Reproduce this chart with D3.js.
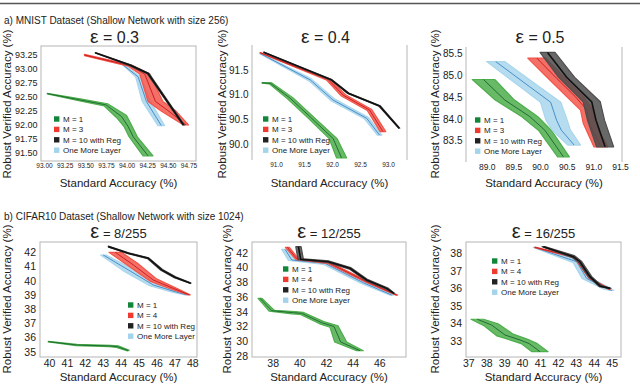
<!DOCTYPE html>
<html>
<head>
<meta charset="UTF-8">
<script src="https://cdn.jsdelivr.net/npm/d3@7"></script>
<style>
  body { margin: 0; background: #fff; }
  text { font-family: "Liberation Sans", Arial, sans-serif; fill: #222; }
</style>
</head>
<body>
<svg id="fig" width="640" height="384"></svg>
<script>
// ---- data: [standard acc, verified acc, x half-spread, y half-spread] ----
var labelsA = ["M = 1", "M = 3", "M = 10 with Reg", "One More Layer"];
var labelsB = ["M = 1", "M = 4", "M = 10 with Reg", "One More Layer"];
var epsTitles = ["0.3", "0.4", "0.5", "8/255", "12/255", "16/255"];

// MNIST eps = 0.3
var a1M1 = [[93.04,92.56,0,0.005],[93.43,92.45,0.01,0.015],[93.75,92.36,0.02,0.02],[93.94,92.15,0.06,0.02],[94.02,91.97,0.05,0],[94.08,91.79,0.05,0],[94.26,91.45,0.06,0]];
var a1M3 = [[93.49,93.25,0,0.01],[94.04,93.06,0.02,0.01],[94.22,92.91,0.06,0],[94.35,92.42,0.09,0],[94.5,92.26,0.09,0],[94.72,92.0,0.03,0]];
var a1Reg = [[93.62,93.29,0,0.005],[94.04,93.07,0.01,0.005],[94.26,92.92,0.01,0.005],[94.69,92.0,0.01,0]];
var a1Layer = [[93.96,93.07,0,0.01],[94.14,92.86,0.03,0],[94.24,92.42,0.05,0],[94.42,91.99,0.04,0]];
// MNIST eps = 0.4
var a2M1 = [[90.75,91.24,0,0.005],[90.9,91.23,0.02,0.01],[91.25,90.93,0.05,0.01],[91.61,90.55,0.05,0.01],[92.02,90.11,0.07,0],[92.17,89.72,0.09,0]];
var a2M3 = [[90.72,91.85,0,0.005],[91.34,91.57,0.01,0.01],[91.93,91.31,0.03,0.01],[92.2,90.99,0.04,0.01],[92.67,90.69,0.04,0.01],[92.91,90.25,0.05,0]];
var a2Reg = [[90.78,91.86,0,0.005],[91.99,91.3,0.01,0.005],[92.29,91.03,0.01,0.005],[92.85,90.77,0.01,0.005],[93.2,90.32,0.01,0]];
var a2Layer = [[90.71,91.84,0,0.01],[91.61,91.3,0.02,0.02],[92.02,90.89,0.03,0.02],[92.62,90.52,0.04,0.01],[92.85,90.18,0.04,0]];
// MNIST eps = 0.5
var a3M1 = [[88.94,84.9,0.21,0],[89.34,84.43,0.18,0],[89.81,84.05,0.15,0],[90.09,83.74,0.12,0],[90.44,83.13,0.11,0]];
var a3M3 = [[89.94,85.39,0.17,0],[90.31,84.93,0.16,0],[90.66,84.51,0.16,0],[90.88,84.2,0.12,0],[90.92,83.9,0.11,0],[91.14,83.36,0.13,0]];
var a3Reg = [[90.14,85.52,0.14,0],[90.5,84.95,0.15,0],[90.97,84.39,0.16,0],[91.05,83.97,0.16,0],[91.22,83.36,0.16,0]];
var a3Layer = [[89.17,85.31,0.17,0],[89.8,84.74,0.18,0],[90.2,84.38,0.19,0],[90.31,83.97,0.2,0],[90.4,83.74,0.17,0],[90.64,83.4,0.12,0]];
// CIFAR10 eps = 8/255
var b1M1 = [[39.96,35.71,0,0.02],[41.54,35.47,0.02,0.04],[43.4,35.4,0.03,0.04],[43.81,35.36,0.05,0.06],[44.43,35.08,0.05,0.02]];
var b1M4 = [[43.7,42.0,0.35,0],[44.71,41.11,0.25,0.1],[45.82,40.05,0.15,0.1],[46.94,39.46,0.1,0.05],[47.83,39.0,0.05,0]];
var b1Reg = [[43.31,42.4,0,0.03],[44.43,41.93,0.02,0.03],[45.54,41.58,0.03,0.03],[46.29,40.76,0.05,0.03],[47.03,40.24,0.04,0.03],[47.91,39.82,0.02,0.02]];
var b1Layer = [[43.03,41.81,0.15,0],[44.43,40.76,0.3,0.05],[45.82,39.7,0.2,0.05],[47.03,39.23,0.1,0.05],[47.68,39.0,0.05,0]];
// CIFAR10 eps = 12/255
var b2M1 = [[37.05,35.81,0.15,0],[37.93,34.14,0.2,0.05],[39.55,33.87,0.1,0.15],[40.18,33.78,0.1,0.15],[41.68,32.51,0.15,0.15],[42.6,32.0,0.3,0.1],[43.1,29.9,0.45,0],[44.55,28.72,0.25,0]];
var b2M4 = [[39.1,42.72,0.15,0],[39.85,41.1,0.1,0.05],[42.18,40.65,0.05,0.1],[45.05,38.07,0.1,0.05],[47.3,36.26,0.08,0]];
var b2Reg = [[39.93,42.81,0.2,0],[40.1,41.1,0.2,0.05],[42.18,40.78,0.05,0.1],[43.8,39.88,0.05,0.1],[45.05,38.3,0.1,0.05],[46.55,37.17,0.1,0.05],[47.1,36.49,0.05,0]];
var b2Layer = [[38.93,42.45,0.25,0],[39.43,41.01,0.25,0.05],[41.93,40.55,0.1,0.15],[44.8,37.93,0.15,0.1],[46.93,36.26,0.15,0]];
// CIFAR10 eps = 16/255
var b3M1 = [[37.5,34.24,0.35,0],[38.3,33.91,0.4,0.05],[39.05,33.34,0.45,0.05],[39.88,33.06,0.4,0.05],[40.4,32.85,0.45,0],[41.0,32.39,0.45,0]];
var b3M4 = [[40.72,38.34,0,0.02],[42.95,37.77,0.03,0.03],[43.79,36.57,0.05,0],[44.87,35.95,0.05,0]];
var b3Reg = [[41.19,38.38,0.08,0],[42.86,37.81,0.05,0.06],[43.23,37.52,0.08,0.03],[43.79,36.67,0.1,0],[44.35,36.14,0.05,0.04],[44.91,36.0,0.05,0]];
var b3Layer = [[40.67,38.34,0.05,0],[43.05,37.52,0.2,0.05],[43.6,36.57,0.25,0],[44.72,36.0,0.15,0.05],[45.0,35.88,0.1,0]];

// tick values
var a1XTicks = [93.0, 93.25, 93.5, 93.75, 94.0, 94.25, 94.5, 94.75];
var a1YTicks = [91.5, 91.75, 92.0, 92.25, 92.5, 92.75, 93.0, 93.25];
var a2XTicks = [91.0, 91.5, 92.0, 92.5, 93.0];
var a2YTicks = [90.0, 90.5, 91.0, 91.5];
var a3XTicks = [89.0, 89.5, 90.0, 90.5, 91.0, 91.5];
var a3YTicks = [83.5, 84.0, 84.5, 85.0, 85.5];
var b1XTicks = [40, 41, 42, 43, 44, 45, 46, 47, 48];
var b1YTicks = [35, 36, 37, 38, 39, 40, 41, 42];
var b2XTicks = [38, 40, 42, 44, 46];
var b2YTicks = [28, 30, 32, 34, 36, 38, 40, 42];
var b3XTicks = [37, 38, 39, 40, 41, 42, 43, 44, 45];
var b3YTicks = [33, 34, 35, 36, 37, 38];

// ---- styling ----
var bandFill = ["#4dae4c", "#f2564a", "#4e4e4e", "#a9d6ec"];
var lineCol = ["#17652d", "#c8161d", "#111111", "#3d85c6"];
var keyCol = ["#11863a", "#ef3b2f", "#222222", "#a4d4ec"];
var drawOrder = [0, 3, 1, 2];

var svg = d3.select("#fig");

// cut page rule at top
svg.append("line").attr("x1", 0).attr("x2", 640).attr("y1", 3.5).attr("y2", 3.5)
  .attr("stroke", "#555").attr("stroke-width", 1.5);

svg.append("text").attr("x", 4).attr("y", 24).style("font-size", "10px")
  .text("a) MNIST Dataset (Shallow Network with size 256)");
svg.append("text").attr("x", 4).attr("y", 220).style("font-size", "10px")
  .text("b) CIFAR10 Dataset (Shallow Network with size 1024)");

var panels = [
  { series: [a1M1, a1M3, a1Reg, a1Layer], labels: labelsA, title: epsTitles[0], row: 0, box: true,
    frame: [41, 46, 196, 161], xd: [93.0, 94.75], xp: [44, 188.5], yd: [91.5, 93.25], yp: [153, 55],
    xt: a1XTicks, yt: a1YTicks, fmt: ".2f", xfs: 6.5, yfs: 9, key: [54, 119], ylx: 11 },
  { series: [a2M1, a2M3, a2Reg, a2Layer], labels: labelsA, title: epsTitles[1], row: 0, box: false,
    frame: [252, 45, 407, 160], xd: [91.0, 93.0], xp: [276, 388], yd: [90.0, 91.5], yp: [144, 70],
    xt: a2XTicks, yt: a2YTicks, fmt: ".1f", xfs: 6.5, yfs: 10, key: [263, 119], ylx: 226 },
  { series: [a3M1, a3M3, a3Reg, a3Layer], labels: labelsA, title: epsTitles[2], row: 0, box: false,
    frame: [466, 47, 622, 162], xd: [89.0, 91.5], xp: [486.7, 620], yd: [83.5, 85.5], yp: [140.7, 53.3],
    xt: a3XTicks, yt: a3YTicks, fmt: ".1f", xfs: 8.5, yfs: 10, key: [475, 120], ylx: 439 },
  { series: [b1M1, b1M4, b1Reg, b1Layer], labels: labelsB, title: epsTitles[3], row: 1, box: true,
    frame: [40, 242, 197, 357], xd: [40, 48], xp: [49, 192.3], yd: [35, 42], yp: [351.7, 252.3],
    xt: b1XTicks, yt: b1YTicks, fmt: "d", xfs: 10.5, yfs: 10.5, key: [128, 305], ylx: 11 },
  { series: [b2M1, b2M4, b2Reg, b2Layer], labels: labelsB, title: epsTitles[4], row: 1, box: true,
    frame: [252, 242, 406, 357], xd: [38, 46], xp: [272.7, 379.3], yd: [28, 42], yp: [356, 252.7],
    xt: b2XTicks, yt: b2YTicks, fmt: "d", xfs: 10.5, yfs: 10.5, key: [283, 269], ylx: 231 },
  { series: [b3M1, b3M4, b3Reg, b3Layer], labels: labelsB, title: epsTitles[5], row: 1, box: true,
    frame: [466, 242, 621, 357], xd: [37, 45], xp: [468.3, 611.7], yd: [33, 38], yp: [341, 253.3],
    xt: b3XTicks, yt: b3YTicks, fmt: "d", xfs: 10.5, yfs: 10.5, key: [492, 261], ylx: 439 }
];

panels.forEach(function (p, i) {
  var g = svg.append("g");
  var f = p.frame;
  var x = d3.scaleLinear().domain(p.xd).range(p.xp);
  var y = d3.scaleLinear().domain(p.yd).range(p.yp);

  g.append("clipPath").attr("id", "clip" + i)
    .append("rect").attr("x", f[0]).attr("y", f[1]).attr("width", f[2] - f[0]).attr("height", f[3] - f[1]);

  if (p.box) {
    g.append("rect").attr("x", f[0]).attr("y", f[1]).attr("width", f[2] - f[0]).attr("height", f[3] - f[1])
      .attr("fill", "none").attr("stroke", "#b5b5b5").attr("stroke-width", 1);
  } else {
    [f[0], f[2]].forEach(function (vx) {
      g.append("line").attr("x1", vx).attr("x2", vx).attr("y1", f[1]).attr("y2", f[3])
        .attr("stroke", "#b5b5b5").attr("stroke-width", 1);
    });
  }

  var band = d3.area()
    .x0(function (d) { return x(d[0] - d[2]); }).y0(function (d) { return y(d[1] - d[3]); })
    .x1(function (d) { return x(d[0] + d[2]); }).y1(function (d) { return y(d[1] + d[3]); });
  var line = d3.line().x(function (d) { return x(d[0]); }).y(function (d) { return y(d[1]); });

  var plot = g.append("g").attr("clip-path", "url(#clip" + i + ")");
  drawOrder.forEach(function (k) {
    var s = p.series[k];
    plot.append("path").datum(s).attr("d", band)
      .attr("fill", bandFill[k]).attr("fill-opacity", 0.85)
      .attr("stroke", bandFill[k]).attr("stroke-width", 1.2).attr("stroke-linejoin", "round");
    plot.append("path").datum(s).attr("d", line)
      .attr("fill", "none").attr("stroke", lineCol[k])
      .attr("stroke-width", k === 2 ? 1.6 : 0.9);
  });

  // axes
  var xa = g.append("g").attr("transform", "translate(0," + f[3] + ")")
    .call(d3.axisBottom(x).tickValues(p.xt).tickFormat(d3.format(p.fmt)).tickSize(0).tickPadding(p.row ? 2.5 : 2));
  var ya = g.append("g").attr("transform", "translate(" + f[0] + ",0)")
    .call(d3.axisLeft(y).tickValues(p.yt).tickFormat(d3.format(p.fmt)).tickSize(0).tickPadding(p.row ? 4 : 3.5));
  xa.select(".domain").remove();
  ya.select(".domain").remove();
  xa.selectAll("text").style("font-size", p.xfs + "px").attr("fill", "#222")
    .style("font-family", "'Liberation Sans', Arial, sans-serif");
  ya.selectAll("text").style("font-size", p.yfs + "px").attr("fill", "#222")
    .style("font-family", "'Liberation Sans', Arial, sans-serif");

  // titles
  var cx = (f[0] + f[2]) / 2 - (p.row ? 0 : 4);
  var t = g.append("text").attr("x", cx).attr("y", p.row ? 238 : 43).attr("text-anchor", "middle")
    .style("font-size", p.row ? "13px" : "16px");
  t.append("tspan").style("font-size", p.row ? "20px" : "19px").text("ε");
  t.append("tspan").text(" = " + p.title);

  g.append("text").attr("x", (f[0] + f[2]) / 2).attr("y", p.row ? 381 : 187)
    .attr("text-anchor", "middle").style("font-size", "11.5px").text("Standard Accuracy (%)");
  g.append("text").attr("transform", "translate(" + p.ylx + "," + (p.row ? 299 : 104) + ") rotate(-90)")
    .attr("text-anchor", "middle").style("font-size", "11.5px").text("Robust Verified Accuracy (%)");

  // legend
  p.labels.forEach(function (lab, k) {
    var ky = p.key[1] + k * 10.4;
    g.append("rect").attr("x", p.key[0]).attr("y", ky - 2.7).attr("width", 5.4).attr("height", 5.4)
      .attr("fill", keyCol[k]);
    g.append("text").attr("x", p.key[0] + 9).attr("y", ky + 2.8).style("font-size", "8px")
      .attr("fill", "#333").text(lab);
  });
});
</script>
</body>
</html>
